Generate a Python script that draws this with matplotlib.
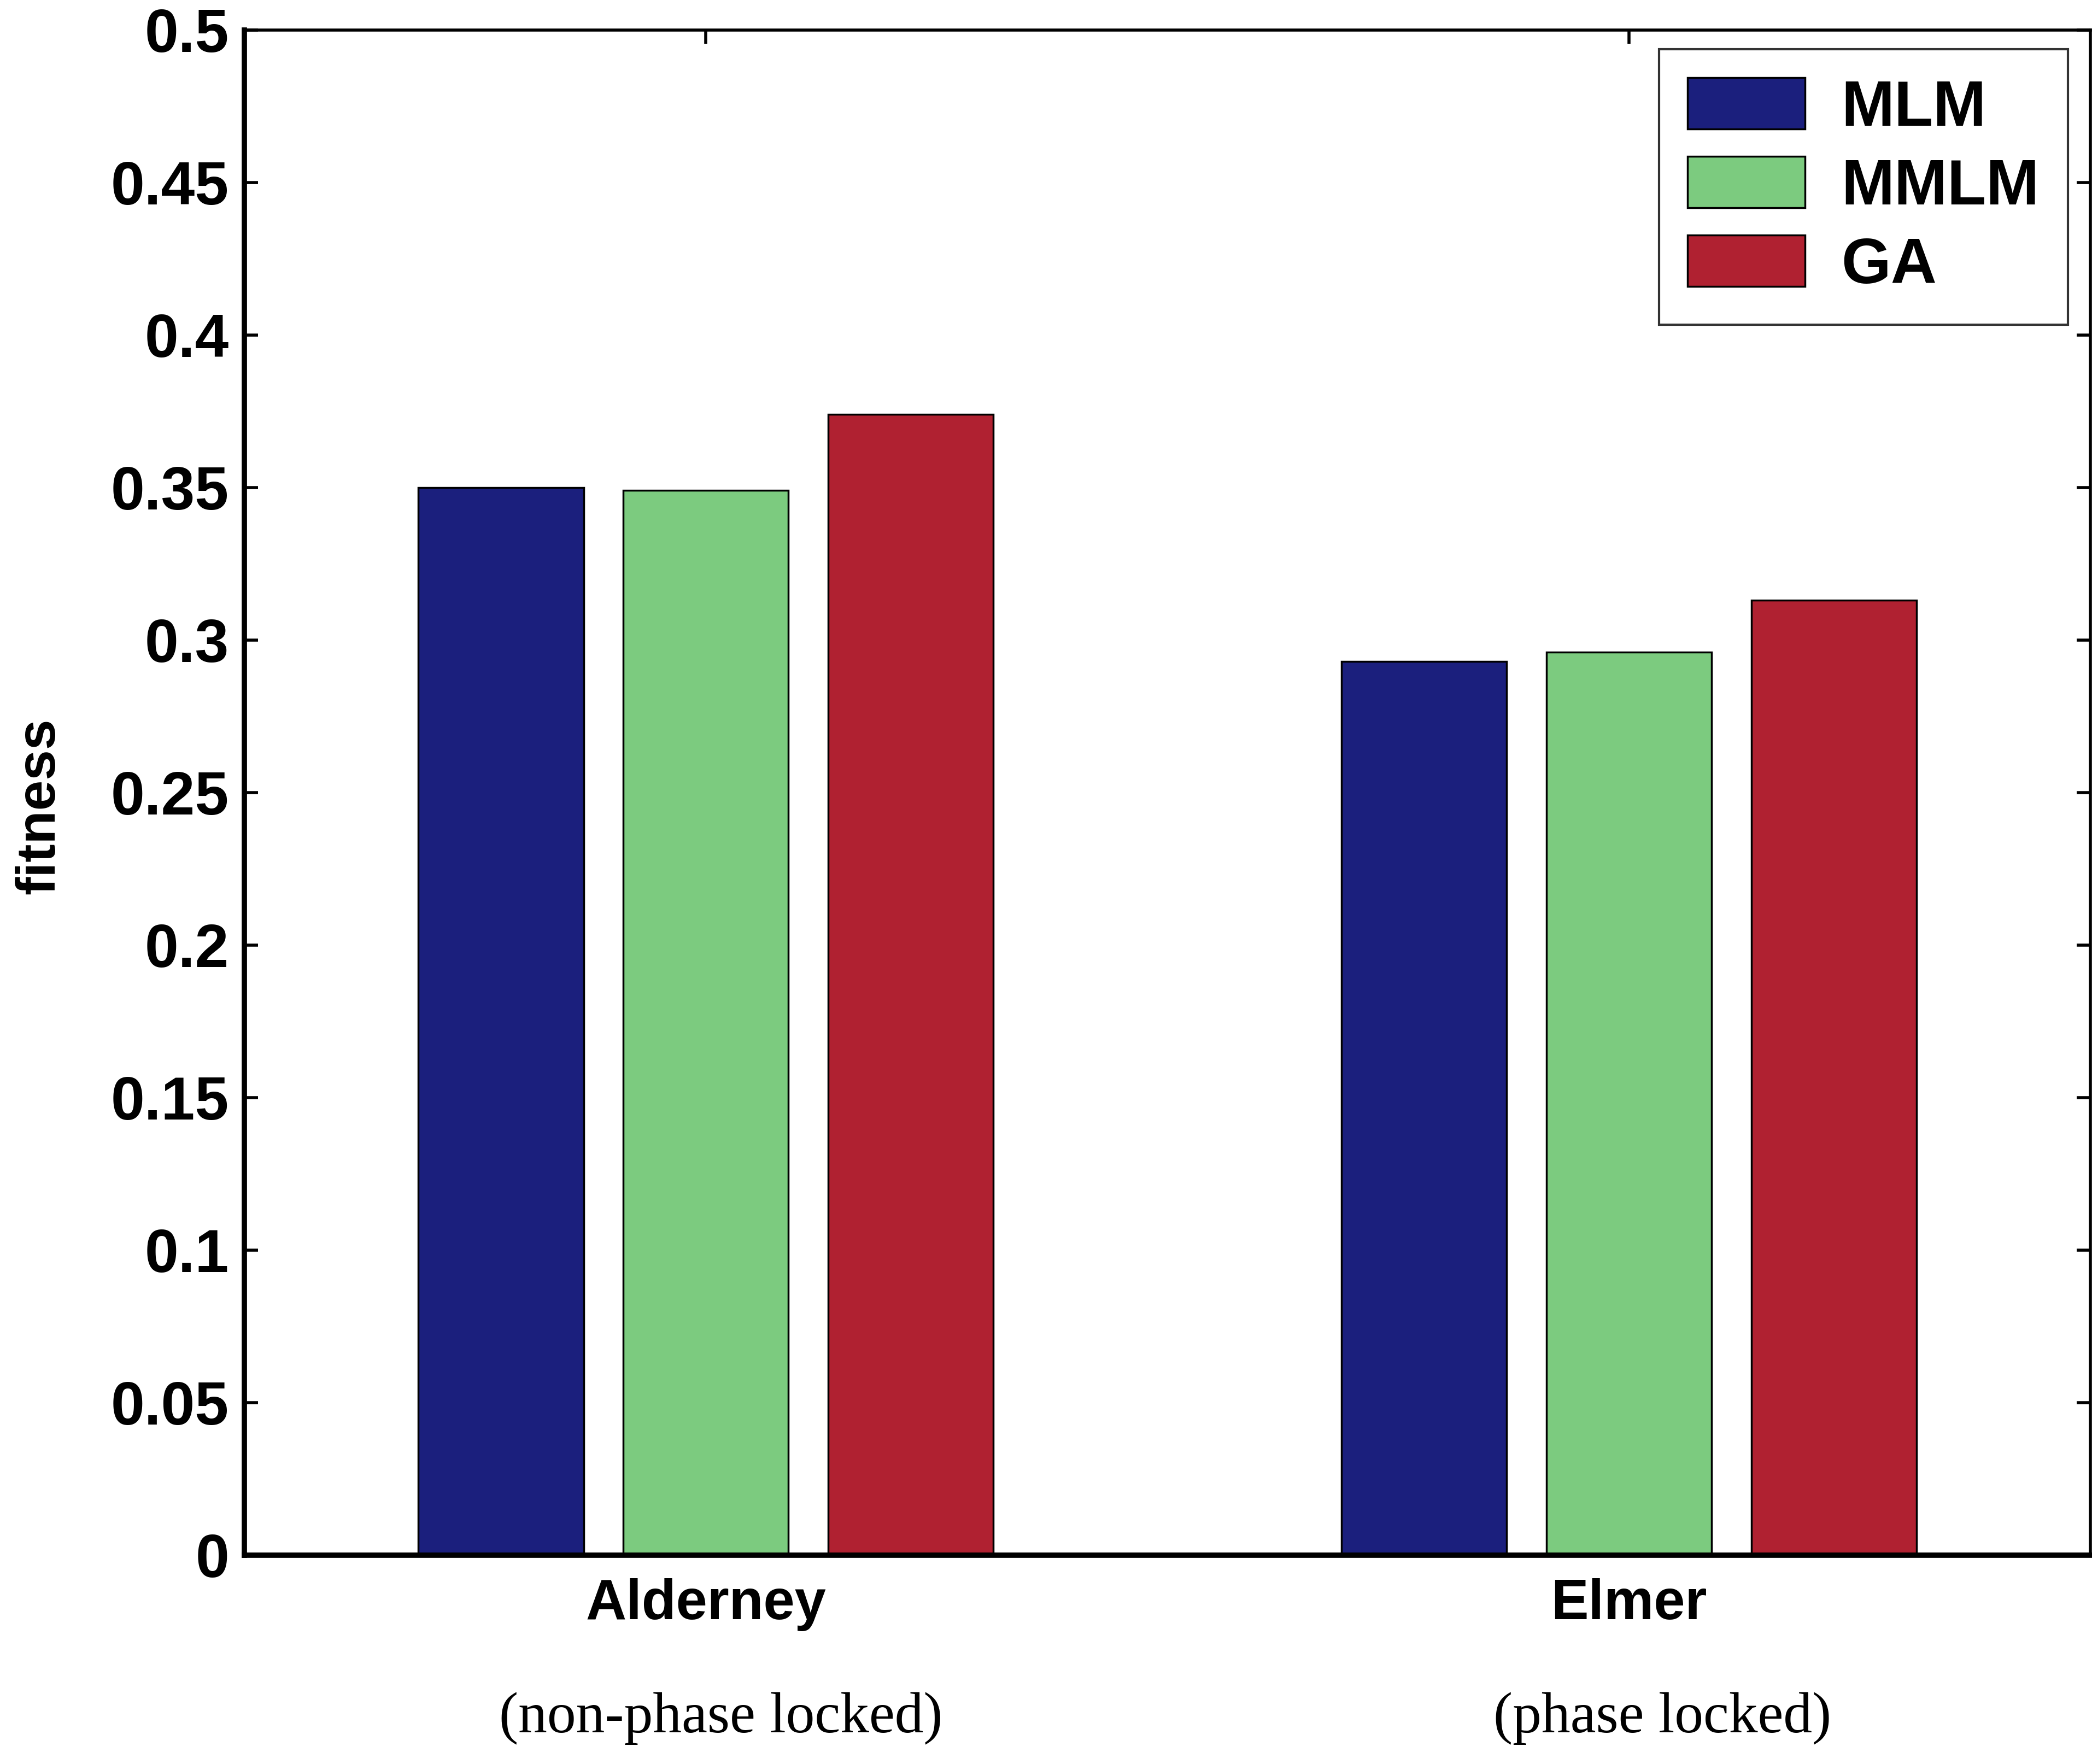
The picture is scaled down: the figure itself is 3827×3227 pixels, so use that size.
import matplotlib
matplotlib.use('Agg')
import matplotlib.pyplot as plt
import matplotlib.transforms as transforms
import numpy as np

# data
sites = ['Alderney', 'Elmer']
site_notes = ['(non-phase locked)', '(phase locked)']
methods = ['MLM', 'MMLM', 'GA']
mlm = [0.350, 0.293]
mmlm = [0.349, 0.296]
ga = [0.374, 0.313]
ytick_vals = [0, 0.05, 0.1, 0.15, 0.2, 0.25, 0.3, 0.35, 0.4, 0.45, 0.5]
ytick_labels = ['0', '0.05', '0.1', '0.15', '0.2', '0.25', '0.3', '0.35', '0.4', '0.45', '0.5']

colors = ['#1b1f7d', '#7ccb7f', '#b02131']

plt.rcParams['font.family'] = ['Liberation Sans', 'DejaVu Sans']

fig = plt.figure(figsize=(38.27, 32.27), dpi=100)
ax = fig.add_axes([0.1168, 0.1184, 0.8825, 0.8646])

x = np.arange(1, len(sites) + 1)
width = 0.179
offsets = [-0.222, 0.0, 0.222]

# draw the grouped bars
for vals, off, col, name in zip([mlm, mmlm, ga], offsets, colors, methods):
    ax.bar(x + off, vals, width, color=col, edgecolor='black', linewidth=2.5, label=name, zorder=2)

ax.set_xlim(0.5, 2.5)
ax.set_ylim(0, 0.5)
ax.set_yticks(ytick_vals)
ax.set_yticklabels(ytick_labels, fontweight='bold', fontsize=80)
ax.set_xticks(x)
ax.set_xticklabels(sites, fontsize=74, fontweight='bold')

# MATLAB-ish box with inward ticks on all sides
ax.tick_params(axis='both', which='major', direction='in', length=18, width=4,
               top=True, right=True, bottom=True, left=True)
ax.tick_params(axis='y', pad=20)
ax.tick_params(axis='x', pad=30)
ax.spines['left'].set_linewidth(7)
ax.spines['bottom'].set_linewidth(7)
ax.spines['top'].set_linewidth(4)
ax.spines['right'].set_linewidth(4)

fig.text(73 / 3827, 0.543, 'fitness', rotation=90, ha='center', va='center',
         fontsize=72, fontweight='bold')

# serif notes under the site names
trans = transforms.blended_transform_factory(ax.transData, ax.transAxes)
for xpos, note in zip([1.016, 2.036], site_notes):
    ax.text(xpos, -0.107, note, transform=trans, ha='center', va='center',
            fontsize=76, family='Liberation Serif', clip_on=False)

leg = ax.legend(loc='upper right', bbox_to_anchor=(3783 / 3827, 1 - 90 / 3227),
                bbox_transform=fig.transFigure, borderaxespad=0,
                prop={'size': 84, 'weight': 'bold'},
                fancybox=False, framealpha=1, edgecolor='#333333',
                handlelength=1.84, handleheight=0.86, labelspacing=0.28,
                handletextpad=0.57, borderpad=0.45)
leg.get_frame().set_linewidth(3)

fig.savefig('out.png', dpi=100, facecolor='white')
